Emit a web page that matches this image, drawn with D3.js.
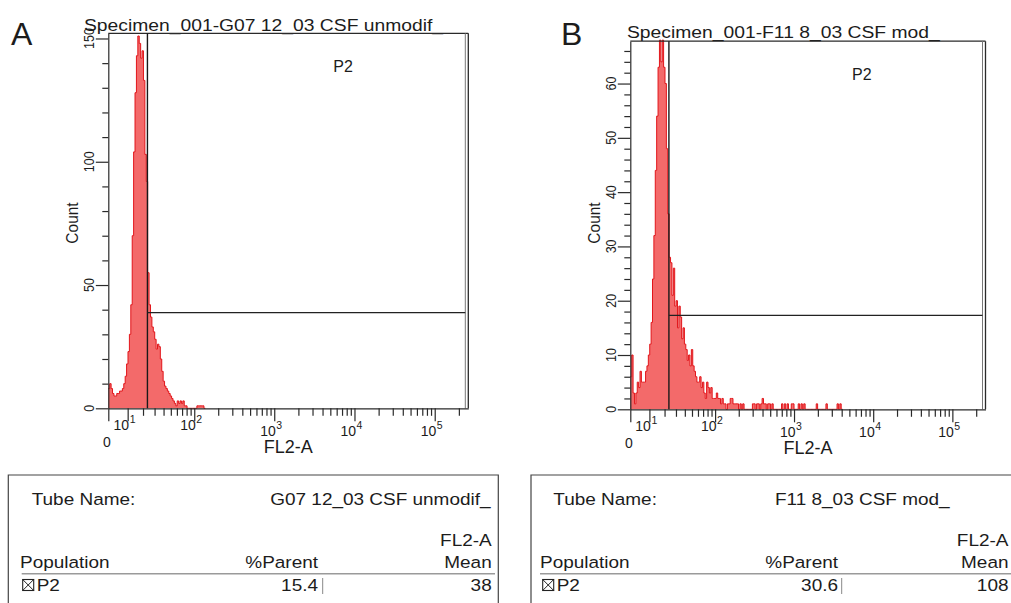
<!DOCTYPE html>
<html>
<head>
<meta charset="utf-8">
<script src="https://cdn.jsdelivr.net/npm/d3@7"></script>
<style>
  body { margin: 0; background: #fff; }
  svg text { font-family: "Liberation Sans", Arial, sans-serif; fill: #1c1c1c; }
</style>
</head>
<body>
<svg id="fig" width="1011" height="603"></svg>
<script>
// FL2-A histograms: event count per display channel (256 channels across the biexponential axis)
const countsA = [
  8, 10, 8, 6, 5, 5, 6, 6, 7, 7,
  8, 10, 13, 18, 23, 30, 42, 70, 104, 128,
  143, 151, 148, 142, 145, 133, 103, 92, 55, 42,
  37, 33, 31, 28, 24, 26, 25, 20, 15, 11,
  9, 8, 7, 6, 5, 4, 3, 2, 1, 3,
  2, 3, 2, 3, 1, 1, 0, 0, 0, 0,
  0, 0, 0, 1, 1, 1, 1, 1, 0
];
const countsB = [
  6, 10, 3, 1, 3, 5, 4, 7, 5, 5,
  5, 7, 8, 10, 12, 16, 24, 32, 44, 54,
  63, 68, 64, 68, 63, 60, 48, 36, 28, 27,
  21, 26, 19, 20, 15, 19, 17, 13, 15, 12,
  11, 9, 10, 8, 11, 8, 7, 6, 5, 5,
  6, 4, 5, 3, 2, 5, 4, 3, 4, 2,
  2, 2, 3, 2, 2, 1, 2, 1, 1, 0,
  1, 1, 2, 2, 1, 1, 1, 1, 0, 1,
  0, 1, 0, 0, 0, 0, 0, 0, 1, 1,
  0, 1, 1, 0, 1, 2, 1, 1, 0, 1,
  1, 0, 1, 0, 0, 0, 0, 0, 0, 1,
  0, 1, 0, 1, 0, 0, 1, 1, 0, 0,
  0, 1, 0, 1, 0, 1, 0, 0, 0, 0,
  0, 0, 0, 0, 1, 0, 0, 0, 0, 0,
  0, 1, 0, 0, 0, 0, 0, 0, 0, 1,
  0, 1, 0
];

const panelLetters   = ["A", "B"];
const specimenTitles = ["Specimen_001-G07 12_03 CSF unmodif_", "Specimen_001-F11 8_03 CSF mod_"];
const tubeNames      = ["G07 12_03 CSF unmodif_", "F11 8_03 CSF mod_"];
const gateName       = "P2";
const gateLow        = [23.5, 23.5];     // FL2-A lower bound of gate P2
const gateBarCount   = [38.8, 17.3];     // count level at which the P2 bar is drawn
const countMax       = [152.1, 67.8];
const countMajorStep = [50, 10];
const countMinorStep = [10, 2];
const pctParent      = ["15.4", "30.6"];
const fl2Mean        = ["38", "108"];
const decadeExps     = [1, 2, 3, 4, 5];
const fl2Max         = 262143;
const nChannels      = 256;
const biexWidth      = 17.1;

const countsByPanel = [countsA, countsB];

// page layout for the two panels
const layout = [
  { plot: { l: 108.3, t: 33.3, r: 468.3, b: 408.3 }, titleX: 84, titleY: 30.5, letterX: 11, letterY: 45,
    box: { l: 8.3, t: 475, r: 498.3 }, tubeLabelX: 31.7, tubeValX: 490.5, tubeValAnchor: "end",
    popX: 20, pctR: 318, sepX: 322.7, meanR: 491.7, ruleL: 21.7, ruleR: 495 },
  { plot: { l: 630.3, t: 41.2, r: 985.5, b: 409.3 }, titleX: 627, titleY: 37.5, letterX: 561, letterY: 45,
    box: { l: 531, t: 475, r: 1040 }, tubeLabelX: 553.3, tubeValX: 775, tubeValAnchor: "start",
    popX: 540, pctR: 838, sepX: 841.7, meanR: 1008.5, ruleL: 540, ruleR: 1011 }
];

const svg = d3.select("#fig");
const toT = v => Math.asinh(v / biexWidth);
const Tmax = toT(fl2Max);
const chToT = c => c * Tmax / nChannels;

function label(parent, x, y, s, o = {}) {
  const tr = `translate(${x},${y}) scale(${o.sx || 1},1)` + (o.rot ? ` rotate(${o.rot})` : "");
  return parent.append("text")
    .attr("transform", tr)
    .attr("font-size", o.size || 14)
    .attr("text-anchor", o.anchor || "start")
    .text(s);
}

panelLetters.forEach((letter, p) => {
  const L = layout[p], P = L.plot;
  const g = svg.append("g");
  const counts = countsByPanel[p];

  const x = d3.scaleLinear().domain([0, Tmax]).range([P.l, P.r]);
  const y = d3.scaleLinear().domain([0, countMax[p]]).range([P.b, P.t]);

  // panel letter and specimen title
  label(g, L.letterX, L.letterY, letter, { size: 32 });
  label(g, L.titleX, L.titleY, specimenTitles[p], { size: 17, sx: 1.135 });

  // histogram
  const pts = counts.map((n, i) => ({ ch: i, n }));
  pts.push({ ch: counts.length, n: 0 });
  const area = d3.area().curve(d3.curveStepAfter)
    .x(d => x(chToT(d.ch))).y0(y(0)).y1(d => y(d.n));
  const line = d3.line().curve(d3.curveStepAfter)
    .x(d => x(chToT(d.ch))).y(d => y(d.n));
  g.append("path").attr("d", area(pts)).attr("fill", "#f36a6a");
  g.append("path").attr("d", line(pts)).attr("fill", "none")
    .attr("stroke", "#e2161b").attr("stroke-width", 1);

  // frame: top line and doubled right edge
  g.append("line").attr("x1", P.l).attr("x2", P.r).attr("y1", P.t).attr("y2", P.t)
    .attr("stroke", "#2a2a2a").attr("stroke-width", 1.3);
  g.append("line").attr("x1", P.r).attr("x2", P.r).attr("y1", P.t).attr("y2", P.b)
    .attr("stroke", "#2a2a2a").attr("stroke-width", 1.3);
  g.append("line").attr("x1", P.r - 3).attr("x2", P.r - 3).attr("y1", P.t).attr("y2", P.b)
    .attr("stroke", "#777").attr("stroke-width", 1);

  // x axis: major ticks at 0 and each decade, minor ticks at 2..9 x decade
  const majors = [0].concat(decadeExps.map(e => Math.pow(10, e)));
  const minors = [];
  decadeExps.forEach(e => {
    for (let k = 2; k <= 9; k++) {
      const v = k * Math.pow(10, e);
      if (v <= fl2Max) minors.push(v);
    }
  });
  const axMaj = d3.axisBottom(x).tickValues(majors.map(toT)).tickSize(13).tickSizeOuter(0).tickFormat("");
  const axMin = d3.axisBottom(x).tickValues(minors.map(toT)).tickSize(7.5).tickSizeOuter(0).tickFormat("");
  const gx = g.append("g").attr("transform", `translate(0,${P.b})`).call(axMaj);
  const gx2 = g.append("g").attr("transform", `translate(0,${P.b})`).call(axMin);
  gx2.select(".domain").remove();
  [gx, gx2].forEach(a => {
    a.selectAll("line,path").attr("stroke", "#2a2a2a").attr("stroke-width", 1.2);
  });

  label(g, x(0) - 1.5, P.b + 39, "0", { size: 14, anchor: "middle" });
  decadeExps.forEach(e => {
    const tx = x(toT(Math.pow(10, e)));
    const by = P.b + (e <= 2 ? 22 : 28);
    label(g, tx + 1.5, by, "10", { size: 14, anchor: "end" });
    label(g, tx + 2, by - 7, String(e), { size: 10.5 });
  });
  label(g, (P.l + P.r) / 2, P.b + 45, "FL2-A", { size: 18, anchor: "middle" });

  // y axis
  const yMaj = d3.range(0, countMax[p] + 0.001, countMajorStep[p]);
  const yMin = d3.range(0, countMax[p] + 0.001, countMinorStep[p]).filter(v => v % countMajorStep[p] !== 0);
  const ayMaj = d3.axisLeft(y).tickValues(yMaj).tickSize(12.5).tickSizeOuter(0).tickFormat("");
  const ayMin = d3.axisLeft(y).tickValues(yMin).tickSize(6).tickSizeOuter(0).tickFormat("");
  const gy = g.append("g").attr("transform", `translate(${P.l},0)`).call(ayMaj);
  const gy2 = g.append("g").attr("transform", `translate(${P.l},0)`).call(ayMin);
  gy2.select(".domain").remove();
  [gy, gy2].forEach(a => {
    a.selectAll("line,path").attr("stroke", "#2a2a2a").attr("stroke-width", 1.2);
  });
  yMaj.forEach(v => {
    label(g, P.l - 14, y(v), String(v), { size: 12.5, sx: 1.1, rot: -90, anchor: "middle" });
  });
  label(g, P.l - 30, 223, "Count", { size: 15.5, sx: 1.1, rot: -90, anchor: "middle" });

  // gate P2
  const gx0 = x(toT(gateLow[p]));
  g.append("line").attr("x1", gx0).attr("x2", gx0).attr("y1", P.t).attr("y2", P.b)
    .attr("stroke", "#1a1a1a").attr("stroke-width", 1.4);
  g.append("line").attr("x1", gx0).attr("x2", P.r - 3).attr("y1", y(gateBarCount[p])).attr("y2", y(gateBarCount[p]))
    .attr("stroke", "#222").attr("stroke-width", 1.4);
  label(g, x(toT(7200)), P.t + 38.5, gateName, { size: 16, anchor: "middle" });

  // statistics table
  const B = L.box;
  g.append("path")
    .attr("d", `M${B.l},620 V${B.t} H${B.r} V620`)
    .attr("fill", "none").attr("stroke", "#444").attr("stroke-width", 1.2);
  const ts = { size: 16.5, sx: 1.15 };
  label(g, L.tubeLabelX, 505, "Tube Name:", ts);
  label(g, L.tubeValX, 505, tubeNames[p], Object.assign({ anchor: L.tubeValAnchor }, ts));
  label(g, L.meanR, 546, "FL2-A", Object.assign({ anchor: "end" }, ts));
  label(g, L.popX, 568, "Population", ts);
  label(g, L.pctR, 568, "%Parent", Object.assign({ anchor: "end" }, ts));
  label(g, L.meanR, 568, "Mean", Object.assign({ anchor: "end" }, ts));
  g.append("line").attr("x1", L.ruleL).attr("x2", L.ruleR).attr("y1", 573.8).attr("y2", 573.8)
    .attr("stroke", "#9a9a9a").attr("stroke-width", 1.5);
  // checked population box
  const cb = L.popX + 2.7;
  g.append("rect").attr("x", cb).attr("y", 579.5).attr("width", 11).attr("height", 11)
    .attr("fill", "none").attr("stroke", "#222").attr("stroke-width", 1.1);
  g.append("path").attr("d", `M${cb},579.5 L${cb + 11},590.5 M${cb + 11},579.5 L${cb},590.5`)
    .attr("stroke", "#222").attr("stroke-width", 1);
  label(g, L.popX + 16.7, 591, gateName, ts);
  label(g, L.pctR, 591, pctParent[p], Object.assign({ anchor: "end" }, ts));
  g.append("line").attr("x1", L.sepX).attr("x2", L.sepX).attr("y1", 578).attr("y2", 594)
    .attr("stroke", "#888").attr("stroke-width", 1);
  label(g, L.meanR, 591, fl2Mean[p], Object.assign({ anchor: "end" }, ts));
});
</script>
</body>
</html>
